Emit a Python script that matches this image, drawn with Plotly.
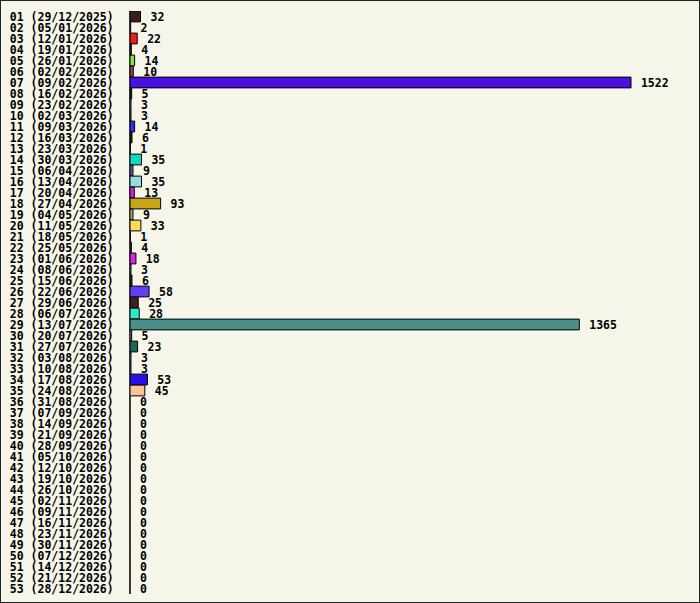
import plotly.graph_objects as go

# weekly counts, week number + monday date
week_labels = [
    "01 (29/12/2025)", "02 (05/01/2026)", "03 (12/01/2026)", "04 (19/01/2026)",
    "05 (26/01/2026)", "06 (02/02/2026)", "07 (09/02/2026)", "08 (16/02/2026)",
    "09 (23/02/2026)", "10 (02/03/2026)", "11 (09/03/2026)", "12 (16/03/2026)",
    "13 (23/03/2026)", "14 (30/03/2026)", "15 (06/04/2026)", "16 (13/04/2026)",
    "17 (20/04/2026)", "18 (27/04/2026)", "19 (04/05/2026)", "20 (11/05/2026)",
    "21 (18/05/2026)", "22 (25/05/2026)", "23 (01/06/2026)", "24 (08/06/2026)",
    "25 (15/06/2026)", "26 (22/06/2026)", "27 (29/06/2026)", "28 (06/07/2026)",
    "29 (13/07/2026)", "30 (20/07/2026)", "31 (27/07/2026)", "32 (03/08/2026)",
    "33 (10/08/2026)", "34 (17/08/2026)", "35 (24/08/2026)", "36 (31/08/2026)",
    "37 (07/09/2026)", "38 (14/09/2026)", "39 (21/09/2026)", "40 (28/09/2026)",
    "41 (05/10/2026)", "42 (12/10/2026)", "43 (19/10/2026)", "44 (26/10/2026)",
    "45 (02/11/2026)", "46 (09/11/2026)", "47 (16/11/2026)", "48 (23/11/2026)",
    "49 (30/11/2026)", "50 (07/12/2026)", "51 (14/12/2026)", "52 (21/12/2026)",
    "53 (28/12/2026)",
]

counts = [
    32, 2, 22, 4, 14, 10, 1522, 5, 3, 3,
    14, 6, 1, 35, 9, 35, 13, 93, 9, 33,
    1, 4, 18, 3, 6, 58, 25, 28, 1365, 5,
    23, 3, 3, 53, 45, 0, 0, 0, 0, 0,
    0, 0, 0, 0, 0, 0, 0, 0, 0, 0,
    0, 0, 0,
]

bar_colors = [
    "#3c1e1e", "#d0d0d0", "#ee1c1c", "#303030", "#7ee83c", "#a04050", "#4a10e0",
    "#202020", "#a0a0a0", "#808080", "#3030e8", "#202020", "#606060", "#10d8b8",
    "#7050a0", "#98dce4", "#e020e0", "#c8a418", "#a0b080", "#ffd860", "#808080",
    "#404040", "#e020f0", "#909090", "#303030", "#6040f4", "#40201c", "#30e8c8",
    "#4a9088", "#909090", "#1c6858", "#909090", "#909090", "#2410e8", "#f8c498",
] + ["#808080"] * 18

FONT = dict(family="DejaVu Sans Mono", size=11.5, color="#000000", weight="bold")
BG = "#f5f5e9"

fig = go.Figure(go.Bar(
    x=counts,
    y=week_labels,
    orientation="h",
    marker=dict(color=bar_colors, line=dict(color="#000000", width=1)),
    text=[" %d" % c for c in counts],
    textposition="outside",
    textfont=FONT,
    cliponaxis=False,
    hoverinfo="skip",
))

W, H = 700, 603
ml, mr, mt, mb = 130, 20, 11, 9
pw, ph = W - ml - mr, H - mt - mb

fig.update_layout(
    width=W,
    height=H,
    margin=dict(l=ml, r=mr, t=mt, b=mb, pad=0, autoexpand=False),
    paper_bgcolor=BG,
    plot_bgcolor=BG,
    showlegend=False,
    bargap=0.02,
    font=FONT,
    xaxis=dict(
        range=[0, pw / (501 / 1522)],
        visible=False,
        showgrid=False,
        zeroline=False,
        automargin=False,
    ),
    yaxis=dict(
        type="category",
        autorange="reversed",
        tickmode="array",
        tickvals=week_labels,
        ticktext=week_labels,
        showgrid=False,
        showline=True,
        linecolor="#333333",
        linewidth=1,
        ticks="",
        ticklabelstandoff=13,
        tickfont=FONT,
        automargin=False,
    ),
    uniformtext=dict(minsize=11, mode="show"),
)

# frame around the whole picture
fig.add_shape(
    type="rect", xref="paper", yref="paper",
    x0=-ml / pw, x1=1 + mr / pw, y0=-mb / ph, y1=1 + mt / ph,
    line=dict(color="#222222", width=2), fillcolor="rgba(0,0,0,0)", layer="above",
)

# browser default body margin would shift the figure by 8px
fig.write_html(
    "out.html",
    config={"displayModeBar": False},
    post_script="document.body.style.margin='0';",
)
